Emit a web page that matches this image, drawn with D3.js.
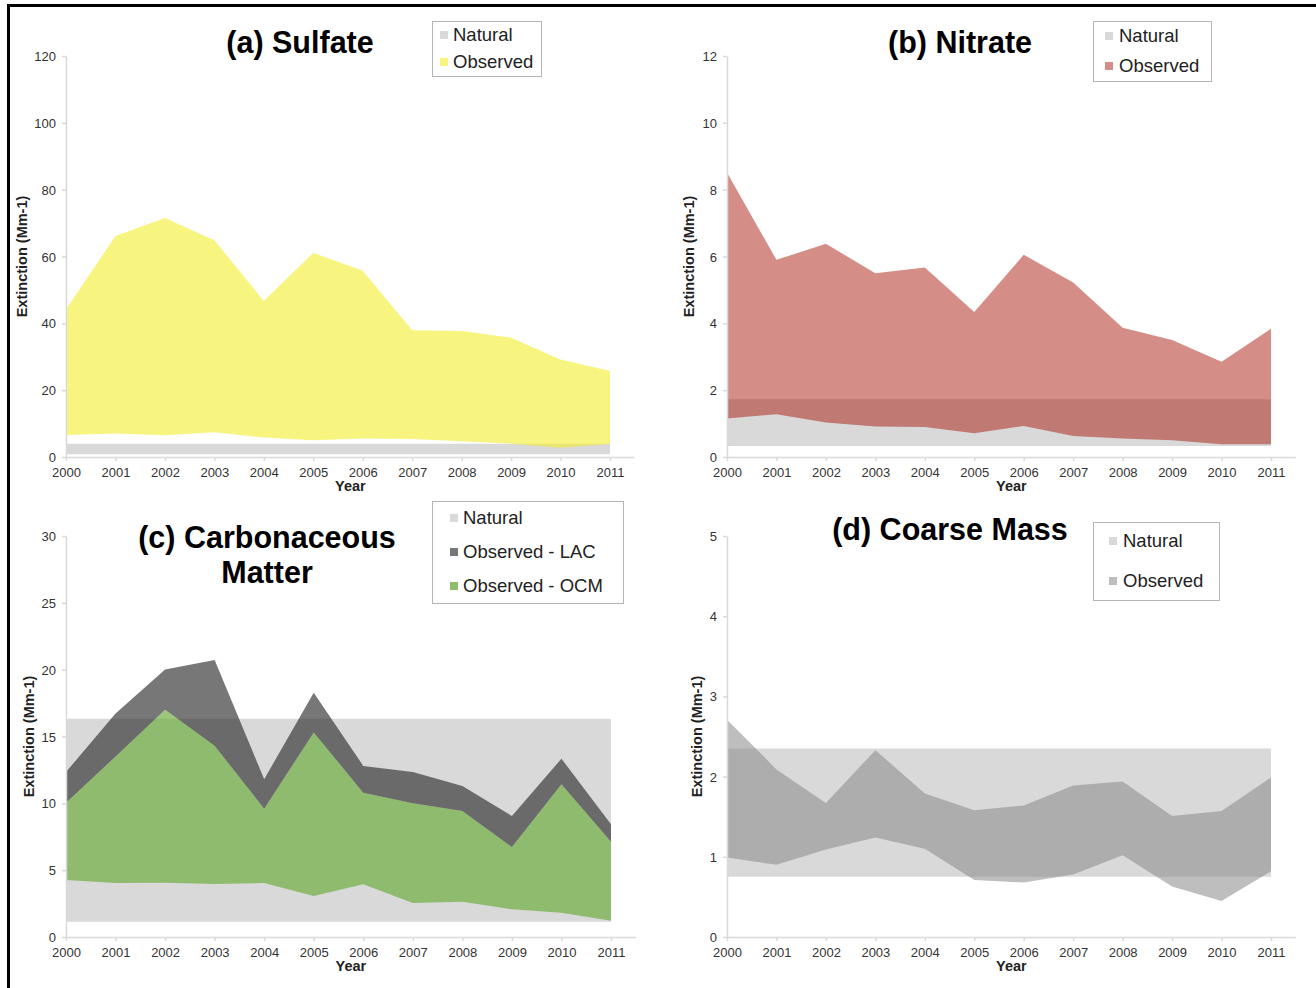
<!DOCTYPE html>
<html>
<head>
<meta charset="utf-8">
<script src="https://cdn.jsdelivr.net/npm/d3@7/dist/d3.min.js"></script>
<style>
  html, body { margin: 0; padding: 0; background: #fff; }
  svg { display: block; font-family: "Liberation Sans", Arial, sans-serif; }
</style>
</head>
<body>
<svg id="chart" width="1316" height="988"></svg>
<script>
// ---------------- DATA ----------------
const years = [2000, 2001, 2002, 2003, 2004, 2005, 2006, 2007, 2008, 2009, 2010, 2011];

// (a) Sulfate
const sulfateNaturalLow  = [0.8, 0.8, 0.8, 0.8, 0.8, 0.8, 0.8, 0.8, 0.8, 0.8, 0.8, 0.8];
const sulfateNaturalHigh = [4.0, 4.0, 4.0, 4.0, 4.0, 4.0, 4.0, 4.0, 4.0, 4.0, 4.0, 4.0];
const sulfateObsLow  = [6.6, 7.0, 6.5, 7.4, 5.8, 5.0, 5.5, 5.4, 4.7, 4.0, 2.8, 3.9];
const sulfateObsHigh = [44.2, 66.1, 71.5, 64.9, 46.7, 61.1, 55.7, 37.9, 37.7, 35.7, 29.2, 25.7];
const sulfateTicks = [0, 20, 40, 60, 80, 100, 120];

// (b) Nitrate
const nitrateNaturalLow  = [0.33, 0.33, 0.33, 0.33, 0.33, 0.33, 0.33, 0.33, 0.33, 0.33, 0.33, 0.33];
const nitrateNaturalHigh = [1.73, 1.73, 1.73, 1.73, 1.73, 1.73, 1.73, 1.73, 1.73, 1.73, 1.73, 1.73];
const nitrateObsLow  = [1.15, 1.28, 1.03, 0.91, 0.90, 0.71, 0.93, 0.63, 0.55, 0.50, 0.38, 0.38];
const nitrateObsHigh = [8.51, 5.90, 6.38, 5.50, 5.67, 4.34, 6.05, 5.22, 3.87, 3.50, 2.85, 3.84];
const nitrateTicks = [0, 2, 4, 6, 8, 10, 12];

// (c) Carbonaceous Matter
const carbNaturalLow  = [1.15, 1.15, 1.15, 1.15, 1.15, 1.15, 1.15, 1.15, 1.15, 1.15, 1.15, 1.15];
const carbNaturalHigh = [16.33, 16.33, 16.33, 16.33, 16.33, 16.33, 16.33, 16.33, 16.33, 16.33, 16.33, 16.33];
const carbOcmLow  = [4.26, 4.04, 4.06, 3.97, 4.04, 3.07, 3.94, 2.54, 2.64, 2.07, 1.82, 1.22];
const carbOcmHigh = [10.05, 13.5, 17.0, 14.3, 9.6, 15.3, 10.8, 10.0, 9.43, 6.73, 11.42, 7.13];
const carbLacHigh = [12.34, 16.73, 20.02, 20.72, 11.8, 18.28, 12.8, 12.34, 11.3, 9.05, 13.34, 8.43];
const carbTicks = [0, 5, 10, 15, 20, 25, 30];

// (d) Coarse Mass
const coarseNaturalLow  = [0.75, 0.75, 0.75, 0.75, 0.75, 0.75, 0.75, 0.75, 0.75, 0.75, 0.75, 0.75];
const coarseNaturalHigh = [2.35, 2.35, 2.35, 2.35, 2.35, 2.35, 2.35, 2.35, 2.35, 2.35, 2.35, 2.35];
const coarseObsLow  = [0.99, 0.90, 1.09, 1.24, 1.10, 0.71, 0.68, 0.78, 1.02, 0.63, 0.45, 0.82];
const coarseObsHigh = [2.71, 2.09, 1.67, 2.33, 1.79, 1.58, 1.64, 1.89, 1.94, 1.51, 1.57, 1.99];
const coarseTicks = [0, 1, 2, 3, 4, 5];

// ---------------- DRAW ----------------
const svg = d3.select("#chart");

// figure frame (top and left edges)
svg.append("line").attr("x1", 8).attr("x2", 1316).attr("y1", 5.5).attr("y2", 5.5)
  .attr("stroke", "#000").attr("stroke-width", 3);
svg.append("line").attr("x1", 8.5).attr("x2", 8.5).attr("y1", 4).attr("y2", 988)
  .attr("stroke", "#000").attr("stroke-width", 3);

const NAT = "#d9d9d9";

function panel(cfg) {
  const g = svg.append("g");
  const x = d3.scaleLinear().domain([years[0], years[years.length - 1]]).range([cfg.x0, cfg.x1]);
  const y = d3.scaleLinear().domain([0, cfg.ymax]).range([cfg.yb, cfg.yt]);
  const step = x(years[1]) - x(years[0]);

  // bands
  cfg.layers.forEach(L => {
    const area = d3.area()
      .x((d, i) => x(years[i]))
      .y0((d, i) => y(L.low[i]))
      .y1((d, i) => y(L.high[i]));
    g.append("path").datum(years).attr("d", area)
      .attr("fill", L.color).attr("fill-opacity", L.opacity == null ? 1 : L.opacity);
  });

  // axes
  const xAxis = d3.axisBottom(x).tickValues(years).tickFormat(d3.format("d")).tickSize(4).tickSizeOuter(0);
  const gx = g.append("g").attr("transform", `translate(0,${cfg.yb})`).call(xAxis);
  gx.select(".domain").attr("d", `M${cfg.x0},0.5H${cfg.x1 + step / 2}`);
  const yAxis = d3.axisLeft(y).tickValues(cfg.ticks).tickFormat(d3.format("d")).tickSize(4).tickSizeOuter(0);
  const gy = g.append("g").attr("transform", `translate(${cfg.x0},0)`).call(yAxis);
  [gx, gy].forEach(a => {
    a.selectAll(".domain").attr("stroke", "#d9d9d9").attr("stroke-width", 1.5);
    a.selectAll(".tick line").attr("stroke", "#d9d9d9").attr("stroke-width", 1.5);
    a.selectAll(".tick text").attr("fill", "#333").style("font-size", "13px")
      .style("font-family", '"Liberation Sans", Arial, sans-serif');
  });
  gx.selectAll(".tick text").attr("dy", null).attr("y", 20);
  gy.selectAll(".tick text").attr("x", -10).attr("dy", "0.35em");

  // axis titles
  g.append("text").attr("x", (cfg.x0 + cfg.x1 + step / 2) / 2).attr("y", cfg.yb + 34)
    .attr("text-anchor", "middle").attr("font-weight", "bold").attr("font-size", 14.5).attr("fill", "#222")
    .text("Year");
  g.append("text").attr("transform", `translate(${cfg.ylabX},${(cfg.yt + cfg.yb) / 2}) rotate(-90)`)
    .attr("text-anchor", "middle").attr("dy", "0.35em").attr("font-weight", "bold").attr("font-size", 14.5)
    .attr("fill", "#222").text("Extinction (Mm-1)");

  // title
  cfg.title.forEach((t, i) => {
    g.append("text").attr("x", cfg.titleX).attr("y", cfg.titleY + i * 35)
      .attr("text-anchor", "middle").attr("font-weight", "bold").attr("font-size", 30.5).attr("fill", "#000")
      .text(t);
  });

  // legend
  const lg = cfg.legend;
  g.append("rect").attr("x", lg.x + 0.5).attr("y", lg.y + 0.5).attr("width", lg.w).attr("height", lg.h)
    .attr("fill", "#fff").attr("stroke", "#b5b5b5").attr("stroke-width", 1);
  lg.items.forEach((it, i) => {
    const cy = lg.y + lg.first + i * lg.gap;
    g.append("rect").attr("x", lg.x + lg.sx).attr("y", cy - 4).attr("width", 8).attr("height", 8).attr("fill", it.color);
    g.append("text").attr("x", lg.x + lg.tx).attr("y", cy).attr("dy", "0.35em")
      .attr("font-size", 18.5).attr("fill", "#222").text(it.label);
  });
}

panel({
  x0: 66, x1: 610, yt: 56, yb: 457, ymax: 120, ticks: sulfateTicks, ylabX: 22,
  layers: [
    { low: sulfateNaturalLow, high: sulfateNaturalHigh, color: NAT },
    { low: sulfateObsLow, high: sulfateObsHigh, color: "rgb(242,238,42)", opacity: 0.6 }
  ],
  title: ["(a) Sulfate"], titleX: 300, titleY: 53,
  legend: { x: 432, y: 21, w: 109, h: 55, first: 14, gap: 27, sx: 8, tx: 21,
    items: [{ label: "Natural", color: NAT }, { label: "Observed", color: "#f7f57f" }] }
});

panel({
  x0: 727, x1: 1271, yt: 56, yb: 457, ymax: 12, ticks: nitrateTicks, ylabX: 689,
  layers: [
    { low: nitrateNaturalLow, high: nitrateNaturalHigh, color: NAT },
    { low: nitrateObsLow, high: nitrateObsHigh, color: "rgb(164,15,0)", opacity: 0.47 }
  ],
  title: ["(b) Nitrate"], titleX: 960, titleY: 53,
  legend: { x: 1093, y: 21, w: 118, h: 60, first: 15, gap: 30, sx: 12, tx: 26,
    items: [{ label: "Natural", color: NAT }, { label: "Observed", color: "#d48e87" }] }
});

panel({
  x0: 66, x1: 611, yt: 536, yb: 937, ymax: 30, ticks: carbTicks, ylabX: 29,
  layers: [
    { low: carbNaturalLow, high: carbNaturalHigh, color: NAT },
    { low: carbOcmLow, high: carbOcmHigh, color: "rgb(105,172,55)", opacity: 0.66 },
    { low: carbOcmHigh, high: carbLacHigh, color: "rgb(49,49,49)", opacity: 0.66 }
  ],
  title: ["(c) Carbonaceous", "Matter"], titleX: 267, titleY: 548,
  legend: { x: 432, y: 501, w: 191, h: 102, first: 17, gap: 34, sx: 18, tx: 31,
    items: [{ label: "Natural", color: NAT }, { label: "Observed - LAC", color: "#777777" },
            { label: "Observed - OCM", color: "#8fbd6e" }] }
});

panel({
  x0: 727, x1: 1271, yt: 536, yb: 937, ymax: 5, ticks: coarseTicks, ylabX: 697,
  layers: [
    { low: coarseNaturalLow, high: coarseNaturalHigh, color: NAT },
    { low: coarseObsLow, high: coarseObsHigh, color: "rgb(137,137,137)", opacity: 0.553 }
  ],
  title: ["(d) Coarse Mass"], titleX: 950, titleY: 540,
  legend: { x: 1093, y: 522, w: 126, h: 78, first: 19, gap: 40, sx: 16, tx: 30,
    items: [{ label: "Natural", color: NAT }, { label: "Observed", color: "#bebebe" }] }
});
</script>
</body>
</html>
